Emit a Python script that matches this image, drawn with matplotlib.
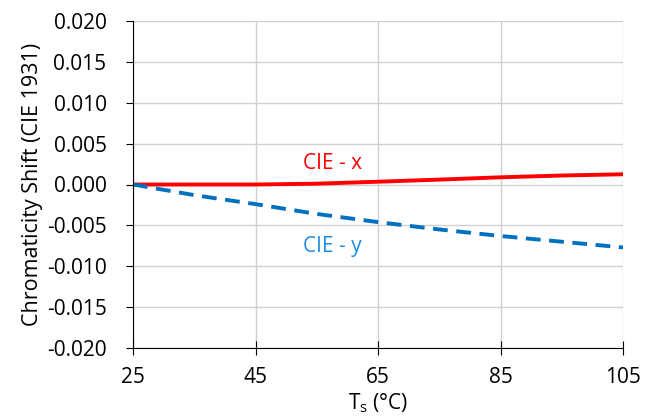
import matplotlib
matplotlib.use("Agg")
import matplotlib.pyplot as plt

plt.rcParams['font.family'] = ['Open Sans', 'DejaVu Sans']

# temperature points and chromaticity shift of each coordinate
temp = [25, 35, 45, 55, 65, 75, 85, 95, 105]
cie_x = [0.0, 0.0, 0.0, 0.0001, 0.00034, 0.0006, 0.00088, 0.0011, 0.00125]
cie_y = [0.0, -0.0013, -0.0024, -0.0036, -0.0046, -0.0055, -0.0063, -0.0070, -0.0077]

fig = plt.figure(figsize=(6.45, 4.16), dpi=100)
ax = fig.add_axes([133/645, 1 - 348/416, 490/645, 327/416])

ax.plot(temp, cie_x, color="#FF0000", lw=2.8, solid_capstyle="butt")
ax.plot(temp, cie_y, color="#0070C0", lw=2.8, ls=(0, (3.8, 2.2)), dash_capstyle="butt")

ax.text(57.5, 0.0026, "CIE - x", color="#FF0000", fontsize=15, ha="center", va="center")
ax.text(57.5, -0.0076, "CIE - y", color="#1E8FEA", fontsize=15, ha="center", va="center")

ax.set_xlim(25, 105)
ax.set_ylim(-0.02, 0.02)
ax.set_xticks([25, 45, 65, 85, 105])
ax.set_yticks([-0.02 + 0.005 * i for i in range(9)])
ax.set_yticklabels([f"{-0.02 + 0.005 * i:.3f}" for i in range(9)])
ax.grid(True, color="#D0D0D0", lw=1)
ax.set_axisbelow(True)

for s in ["top", "right"]:
    ax.spines[s].set_visible(False)
ax.spines["left"].set_color("black")
ax.spines["bottom"].set_color("black")
ax.tick_params(axis="x", direction="inout", length=10, labelsize=15, pad=9)
ax.tick_params(axis="y", direction="out", length=5, labelsize=15, pad=14)

ax.set_xlabel("T$_\\mathregular{s}$ (°C)", fontsize=15, labelpad=2)
ax.set_ylabel("Chromaticity Shift (CIE 1931)", fontsize=15.5)
ax.yaxis.set_label_coords((43 - 133) / 490, 0.5)

fig.savefig("out.png", dpi=100)
